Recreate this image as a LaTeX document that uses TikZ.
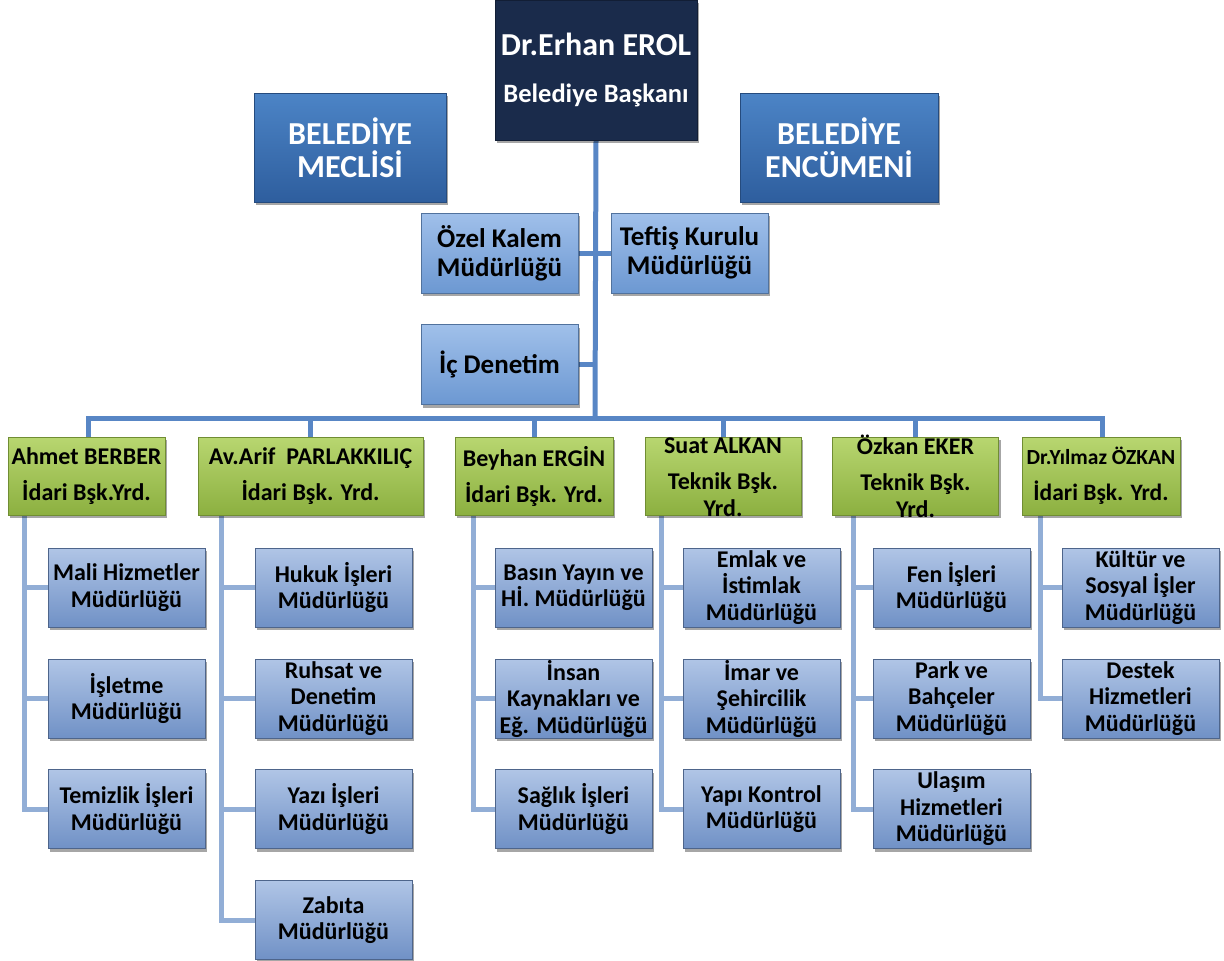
\documentclass[tikz,border=0pt]{standalone}
\usepackage{fontspec}
\setmainfont{Carlito}
\usetikzlibrary{shadows}
\pgfdeclarelayer{background}
\pgfsetlayers{background,main}
\definecolor{presfill}{RGB}{26,43,75}
\definecolor{counciltop}{RGB}{76,132,198}
\definecolor{councilbot}{RGB}{46,94,158}
\definecolor{stafftop}{RGB}{160,192,234}
\definecolor{staffbot}{RGB}{108,152,210}
\definecolor{greentop}{RGB}{184,214,112}
\definecolor{greenbot}{RGB}{140,176,64}
\definecolor{depttop}{RGB}{176,197,230}
\definecolor{deptbot}{RGB}{112,145,198}
\definecolor{mainline}{RGB}{88,134,197}
\definecolor{subline}{RGB}{146,174,214}
\newcommand{\overflowtext}[1]{\smash{\raisebox{-10pt}{\begin{tabular}{@{}c@{}}#1\end{tabular}}}}
\tikzset{
  box/.style={draw, line width=1pt, align=center, inner sep=0pt,
    drop shadow={shadow xshift=2pt, shadow yshift=-3pt, opacity=0.35, fill=black}},
  presbox/.style={box, fill=presfill, draw=presfill!70!black, text=white,
    minimum width=202, minimum height=140},
  councilbox/.style={box, top color=counciltop, bottom color=councilbot, draw=councilbot!80!black, text=white,
    minimum height=109, font=\bfseries\fontsize{32}{33}\selectfont},
  staffbox/.style={box, top color=stafftop, bottom color=staffbot, draw=staffbot!75!black,
    minimum width=157, minimum height=80, font=\bfseries\fontsize{27}{29}\selectfont},
  deputybox/.style={box, top color=greentop, bottom color=greenbot, draw=greenbot!80!black,
    minimum height=78, font=\bfseries\fontsize{24}{36}\selectfont},
  deptbox/.style={box, top color=depttop, bottom color=deptbot, draw=deptbot!70!black,
    minimum width=157, minimum height=79, font=\bfseries\fontsize{24}{26.5}\selectfont},
  mainconn/.style={draw=mainline, line width=5pt},
  subconn/.style={draw=subline, line width=5pt},
}
\begin{document}
\begin{tikzpicture}[x=1pt, y=-1pt]
\useasboundingbox (0,0) rectangle (1224,961);

\coordinate (bus) at (595,418);
\coordinate (busL) at (88,418);
\coordinate (busR) at (1102,418);

% top level
\node[presbox] (pres) at (596,70) {{\bfseries\fontsize{32}{34}\selectfont Dr.Erhan EROL}\\[28pt]{\bfseries\fontsize{26.5}{28}\selectfont Belediye Başkanı}};
\node[councilbox, minimum width=192] (meclis) at (350,147.5) {BELEDİYE\\MECLİSİ};
\node[councilbox, minimum width=198] (encumen) at (839,147.5) {BELEDİYE\\ENCÜMENİ};

\node[staffbox] (ozel) at (499.5,253) {Özel Kalem\\Müdürlüğü};
\node[staffbox] (teftis) at (689.5,253) {Teftiş Kurulu\\Müdürlüğü};
\node[staffbox] (ic) at (499.5,364.5) {İç Denetim};

% deputies
\node[deputybox, minimum width=157] (ahmet) at (86.5,476) {Ahmet BERBER\\İdari Bşk.Yrd.};
\node[deputybox, minimum width=225] (arif) at (310.5,476) {Av.Arif\ \ PARLAKKILIÇ\\İdari Bşk. Yrd.};
\node[deputybox, minimum width=158] (beyhan) at (534,476) {Beyhan ERGİN\\İdari Bşk. Yrd.};
\node[deputybox, minimum width=156, font=\bfseries\fontsize{24}{27}\selectfont] (suat) at (723,476) {\overflowtext{Suat ALKAN\\[9pt]Teknik Bşk.\\Yrd.}};
\node[deputybox, minimum width=166, font=\bfseries\fontsize{24}{27}\selectfont] (ozkan) at (915.5,476) {\overflowtext{Özkan EKER\\[9pt]Teknik Bşk.\\Yrd.}};
\node[deputybox, minimum width=158, font=\bfseries\fontsize{21.5}{36}\selectfont] (yilmaz) at (1101,476) {Dr.Yılmaz ÖZKAN\\{\fontsize{23.5}{24}\selectfont İdari Bşk. Yrd.}};

% departments
\node[deptbox] (a1) at (126.5,587.5) {Mali Hizmetler\\Müdürlüğü};
\node[deptbox] (a2) at (126.5,698.5) {İşletme\\Müdürlüğü};
\node[deptbox] (a3) at (126.5,809) {Temizlik İşleri\\Müdürlüğü};

\node[deptbox] (b1) at (333.5,587.5) {Hukuk İşleri\\Müdürlüğü};
\node[deptbox] (b2) at (333.5,698.5) {Ruhsat ve\\Denetim\\Müdürlüğü};
\node[deptbox] (b3) at (333.5,809) {Yazı İşleri\\Müdürlüğü};
\node[deptbox] (b4) at (333.5,920) {Zabıta\\Müdürlüğü};

\node[deptbox] (c1) at (573.5,587.5) {Basın Yayın ve\\Hİ. Müdürlüğü};
\node[deptbox] (c2) at (573.5,698.5) {İnsan\\Kaynakları ve\\Eğ. Müdürlüğü};
\node[deptbox] (c3) at (573.5,809) {Sağlık İşleri\\Müdürlüğü};

\node[deptbox] (d1) at (761.5,587.5) {Emlak ve\\İstimlak\\Müdürlüğü};
\node[deptbox] (d2) at (761.5,698.5) {İmar ve\\Şehircilik\\Müdürlüğü};
\node[deptbox] (d3) at (761.5,809) {Yapı Kontrol\\Müdürlüğü};

\node[deptbox] (e1) at (951.5,587.5) {Fen İşleri\\Müdürlüğü};
\node[deptbox] (e2) at (951.5,698.5) {Park ve\\Bahçeler\\Müdürlüğü};
\node[deptbox] (e3) at (951.5,809) {Ulaşım\\Hizmetleri\\Müdürlüğü};

\node[deptbox] (f1) at (1140.5,587.5) {Kültür ve\\Sosyal İşler\\Müdürlüğü};
\node[deptbox] (f2) at (1140.5,698.5) {Destek\\Hizmetleri\\Müdürlüğü};

% column trunk tops
\coordinate (ta) at (24,515);
\coordinate (tb) at (221,515);
\coordinate (tc) at (473,515);
\coordinate (td) at (661,515);
\coordinate (te) at (853,515);
\coordinate (tf) at (1040,515);

\begin{pgfonlayer}{background}
\draw[mainconn] (pres.south) -- (bus);
\draw[mainconn] (ozel.east) -- (teftis.west);
\draw[mainconn] (ic.east) -- (ic.east -| bus);
\draw[mainconn, line cap=rect] (ahmet.north -| busL) -- (busL) -- (busR) -- (yilmaz.north -| busR);
\draw[mainconn] (busL -| arif.north) -- (arif.north);
\draw[mainconn] (busL -| beyhan.north) -- (beyhan.north);
\draw[mainconn] (busL -| suat.north) -- (suat.north);
\draw[mainconn] (busL -| ozkan.north) -- (ozkan.north);

\draw[subconn] (ta) |- (a3.west);
\draw[subconn] (ta |- a1.west) -- (a1.west);
\draw[subconn] (ta |- a2.west) -- (a2.west);

\draw[subconn] (tb) |- (b4.west);
\draw[subconn] (tb |- b1.west) -- (b1.west);
\draw[subconn] (tb |- b2.west) -- (b2.west);
\draw[subconn] (tb |- b3.west) -- (b3.west);

\draw[subconn] (tc) |- (c3.west);
\draw[subconn] (tc |- c1.west) -- (c1.west);
\draw[subconn] (tc |- c2.west) -- (c2.west);

\draw[subconn] (td) |- (d3.west);
\draw[subconn] (td |- d1.west) -- (d1.west);
\draw[subconn] (td |- d2.west) -- (d2.west);

\draw[subconn] (te) |- (e3.west);
\draw[subconn] (te |- e1.west) -- (e1.west);
\draw[subconn] (te |- e2.west) -- (e2.west);

\draw[subconn] (tf) |- (f2.west);
\draw[subconn] (tf |- f1.west) -- (f1.west);
\end{pgfonlayer}
\end{tikzpicture}
\end{document}
